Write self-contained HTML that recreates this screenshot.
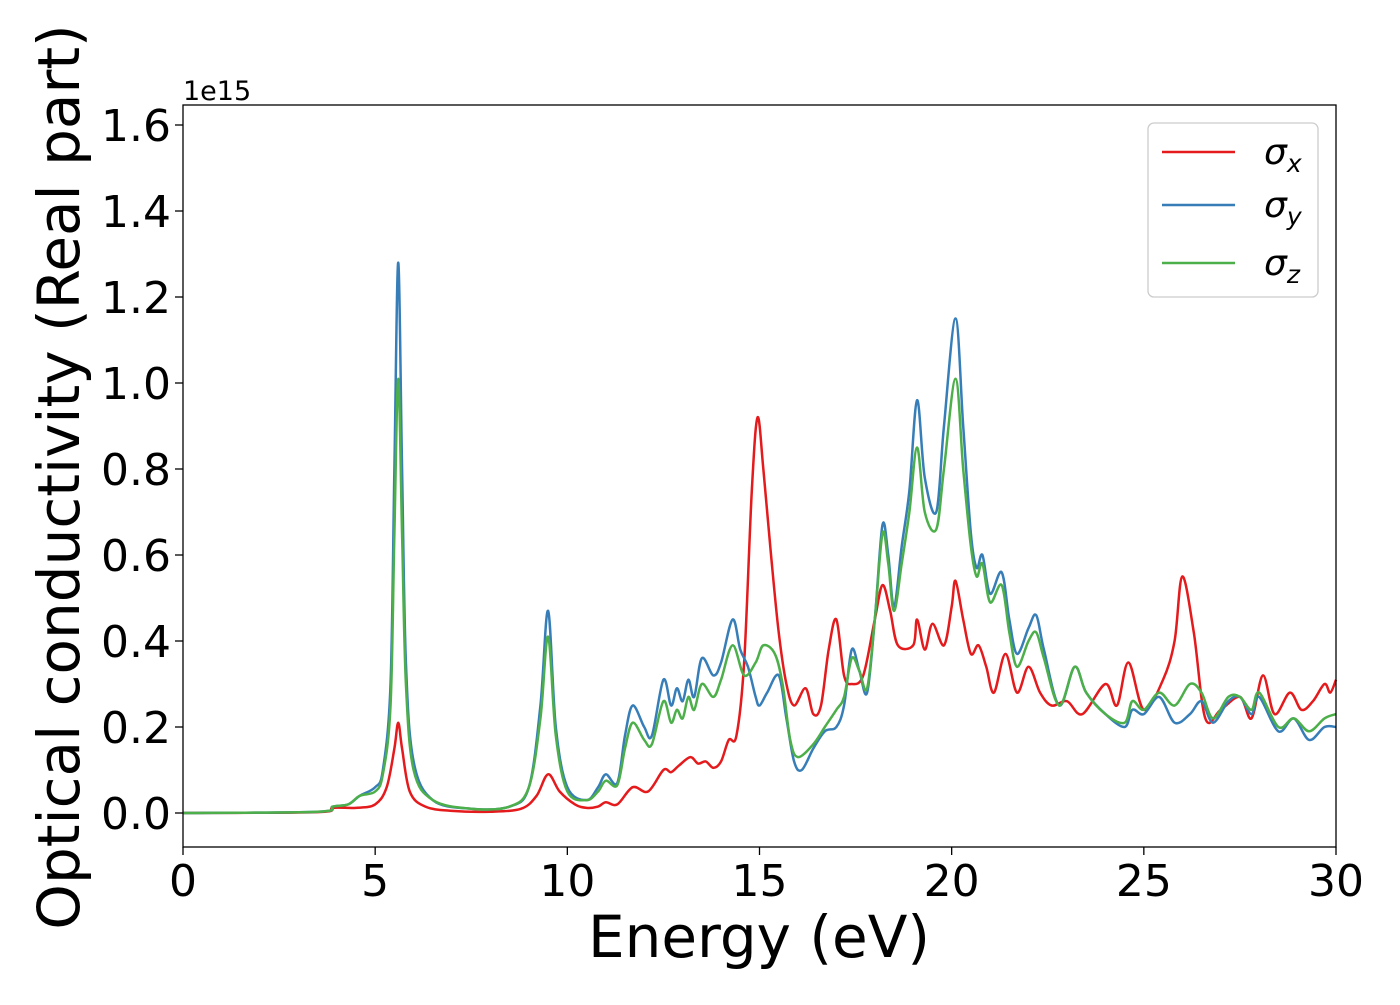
<!DOCTYPE html>
<html><head><meta charset="utf-8"><style>
body{margin:0;background:#fff}
svg text{font-family:"DejaVu Sans","Liberation Sans",sans-serif;fill:#000}
</style></head><body>
<svg id="chart" width="1400" height="1000" xmlns="http://www.w3.org/2000/svg">
<g id="ticks"></g>
<g id="series"></g>
<rect x="183" y="105" width="1153" height="742" fill="none" stroke="#000" stroke-width="1.3"/>
<text x="183" y="100" font-size="27">1e15</text>
<text x="759" y="957" font-size="58" text-anchor="middle">Energy (eV)</text>
<text transform="translate(79,477) rotate(-90)" font-size="58" text-anchor="middle">Optical conductivity (Real part)</text>
<g>
<rect x="1148" y="123" width="170" height="174" rx="6" fill="#fff" stroke="#ccc" stroke-width="1.3"/>
<line x1="1162" y1="152" x2="1235" y2="152" stroke="#e41a1c" stroke-width="2.5"/>
<text x="1264" y="164" font-size="36" font-style="italic">σ<tspan font-size="25" dy="8">x</tspan></text>
<line x1="1162" y1="205" x2="1235" y2="205" stroke="#377eb8" stroke-width="2.5"/>
<text x="1264" y="217" font-size="36" font-style="italic">σ<tspan font-size="25" dy="8">y</tspan></text>
<line x1="1162" y1="263" x2="1235" y2="263" stroke="#4daf4a" stroke-width="2.5"/>
<text x="1264" y="275" font-size="36" font-style="italic">σ<tspan font-size="25" dy="8">z</tspan></text>
</g>
</svg>
<script>
const xTicks=[0,5,10,15,20,25,30];
const yTicks=[0.0,0.2,0.4,0.6,0.8,1.0,1.2,1.4,1.6];
const redE=[0,3.5,3.9,4.5,5.0,5.3,5.5,5.6,5.7,5.9,6.3,7,8,8.8,9.2,9.5,9.8,10.2,10.5,10.8,11.0,11.3,11.7,12.1,12.5,12.7,12.9,13.2,13.4,13.6,13.8,14.0,14.2,14.4,14.6,14.8,14.95,15.1,15.3,15.5,15.7,15.9,16.2,16.4,16.6,16.8,17.0,17.2,17.4,17.7,18.0,18.2,18.4,18.6,19.0,19.1,19.3,19.5,19.8,20.0,20.1,20.3,20.5,20.7,20.9,21.1,21.4,21.7,22.0,22.3,22.6,23.0,23.4,24.0,24.3,24.6,25.0,25.5,25.8,26.0,26.3,26.6,27.0,27.5,27.8,28.1,28.4,28.8,29.1,29.4,29.7,29.85,30];
const redS=[0,0.002,0.012,0.012,0.02,0.06,0.15,0.21,0.15,0.05,0.015,0.005,0.003,0.01,0.04,0.09,0.05,0.02,0.012,0.015,0.025,0.02,0.06,0.05,0.1,0.095,0.11,0.13,0.115,0.12,0.105,0.12,0.17,0.18,0.35,0.75,0.92,0.8,0.6,0.42,0.3,0.25,0.29,0.23,0.25,0.38,0.45,0.32,0.3,0.32,0.45,0.53,0.47,0.39,0.39,0.45,0.38,0.44,0.39,0.48,0.54,0.45,0.37,0.39,0.34,0.28,0.37,0.28,0.34,0.28,0.25,0.26,0.23,0.3,0.25,0.35,0.24,0.31,0.4,0.55,0.42,0.22,0.24,0.27,0.22,0.32,0.23,0.28,0.24,0.26,0.3,0.28,0.31];
const blueE=[0,3.5,3.9,4.3,4.6,5.0,5.2,5.4,5.5,5.6,5.7,5.8,6.0,6.5,7.5,8.5,9.0,9.3,9.5,9.7,10.0,10.5,10.8,11.0,11.3,11.5,11.7,12.0,12.2,12.5,12.7,12.85,13.0,13.15,13.3,13.5,13.8,14.0,14.3,14.5,14.7,14.9,15.0,15.2,15.5,15.7,15.9,16.1,16.4,16.7,17.0,17.2,17.4,17.6,17.8,18.0,18.2,18.35,18.5,18.7,18.9,19.1,19.3,19.6,19.8,20.1,20.3,20.5,20.65,20.8,21.0,21.3,21.5,21.7,22.0,22.2,22.4,22.8,23.2,23.5,24.0,24.5,24.7,25.0,25.4,25.8,26.2,26.5,26.8,27.2,27.5,27.8,28.0,28.5,28.9,29.3,29.7,30];
const blueS=[0,0.003,0.015,0.02,0.04,0.06,0.1,0.3,0.8,1.28,0.8,0.35,0.12,0.03,0.01,0.015,0.06,0.25,0.47,0.2,0.06,0.03,0.06,0.09,0.07,0.18,0.25,0.2,0.18,0.31,0.25,0.29,0.26,0.31,0.27,0.36,0.32,0.35,0.45,0.38,0.34,0.27,0.25,0.28,0.32,0.22,0.12,0.1,0.15,0.19,0.2,0.25,0.38,0.33,0.28,0.45,0.67,0.6,0.48,0.62,0.75,0.96,0.78,0.7,0.9,1.15,0.9,0.65,0.57,0.6,0.51,0.56,0.45,0.37,0.43,0.46,0.38,0.25,0.34,0.28,0.23,0.2,0.24,0.23,0.27,0.21,0.23,0.26,0.21,0.26,0.27,0.23,0.27,0.19,0.22,0.17,0.2,0.2];
const greenE=[0,3.5,3.9,4.3,4.6,5.0,5.2,5.4,5.5,5.6,5.7,5.8,6.0,6.5,7.5,8.5,9.0,9.3,9.5,9.7,10.0,10.5,10.8,11.0,11.3,11.5,11.7,12.0,12.2,12.5,12.7,12.85,13.0,13.15,13.3,13.5,13.8,14.0,14.3,14.6,14.9,15.1,15.4,15.6,15.8,16.0,16.4,16.7,17.0,17.2,17.4,17.6,17.8,18.0,18.2,18.35,18.5,18.7,18.9,19.1,19.3,19.6,19.8,20.1,20.3,20.5,20.65,20.8,21.0,21.3,21.5,21.7,22.0,22.2,22.4,22.8,23.2,23.5,24.0,24.5,24.7,25.0,25.4,25.8,26.2,26.5,26.8,27.2,27.5,27.8,28.0,28.5,28.9,29.3,29.7,30];
const greenS=[0,0.003,0.015,0.02,0.04,0.05,0.09,0.25,0.65,1.01,0.65,0.3,0.1,0.03,0.01,0.015,0.06,0.22,0.41,0.18,0.05,0.03,0.05,0.075,0.065,0.15,0.21,0.17,0.16,0.26,0.21,0.24,0.22,0.27,0.24,0.3,0.27,0.31,0.39,0.32,0.35,0.39,0.37,0.3,0.17,0.13,0.16,0.2,0.24,0.27,0.36,0.33,0.29,0.45,0.65,0.58,0.47,0.58,0.7,0.85,0.7,0.66,0.8,1.01,0.8,0.62,0.55,0.58,0.49,0.53,0.42,0.34,0.4,0.42,0.36,0.25,0.34,0.28,0.23,0.21,0.26,0.24,0.28,0.25,0.3,0.28,0.22,0.27,0.27,0.24,0.28,0.2,0.22,0.19,0.22,0.23];

const X0=183,X1=1336,YT=105,YB=847;
const xScale=v=>X0+(v-0)/30*(X1-X0);
const yScale=v=>813-v*430;
const NS='http://www.w3.org/2000/svg';
const tg=document.getElementById('ticks');
function mk(tag,attrs,parent){const e=document.createElementNS(NS,tag);for(const k in attrs)e.setAttribute(k,attrs[k]);parent.appendChild(e);return e;}
xTicks.forEach(t=>{
  const l=mk('line',{x1:xScale(t),x2:xScale(t),y1:YB,y2:YB+8,stroke:'#000','stroke-width':1.3},tg);
  
  
  const tx=mk('text',{x:xScale(t),y:YB+49,'font-size':44,'text-anchor':'middle'},tg);
  tx.textContent=t;
  
  
});
yTicks.forEach(t=>{
  const l=mk('line',{x1:X0-8,x2:X0,y1:yScale(t),y2:yScale(t),stroke:'#000','stroke-width':1.3},tg);
  
  
  const tx=mk('text',{x:X0-12,y:yScale(t)+16,'font-size':44,'text-anchor':'end'},tg);
  tx.textContent=t.toFixed(1);
  
  
});
function pathFor(E,S){
  const p=E.map((e,i)=>[xScale(e),yScale(S[i])]);
  let d='M'+p[0][0]+','+p[0][1];
  for(let i=0;i<p.length-1;i++){
    const p0=p[Math.max(0,i-1)],p1=p[i],p2=p[i+1],p3=p[Math.min(p.length-1,i+2)];
    const c1=[p1[0]+(p2[0]-p0[0])/6,p1[1]+(p2[1]-p0[1])/6];
    const c2=[p2[0]-(p3[0]-p1[0])/6,p2[1]-(p3[1]-p1[1])/6];
    d+=' C'+c1[0]+','+c1[1]+' '+c2[0]+','+c2[1]+' '+p2[0]+','+p2[1];
  }
  return d;
}
const sg=document.getElementById('series');
[[redE,redS,'#e41a1c','sigma-x-line'],[blueE,blueS,'#377eb8','sigma-y-line'],[greenE,greenS,'#4daf4a','sigma-z-line']].forEach(s=>{
  const pa=mk('path',{d:pathFor(s[0],s[1]),fill:'none',stroke:s[2],'stroke-width':2.5,'stroke-linejoin':'round'},sg);
  
  
});
</script>
</body></html>
